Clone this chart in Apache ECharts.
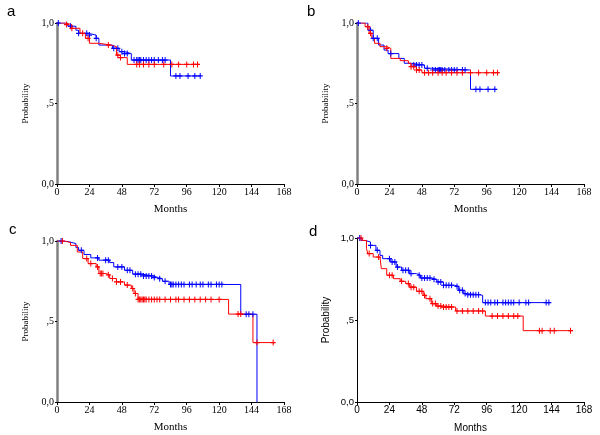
<!DOCTYPE html>
<html>
<head>
<meta charset="utf-8">
<script src="https://cdn.jsdelivr.net/npm/echarts@6/dist/echarts.min.js"></script>
<style>
html, body { margin: 0; padding: 0; background: #fff; }
#main { width: 600px; height: 435px; }
</style>
</head>
<body>
<div id="main"></div>
<script>
// step points [month, probability] of each survival curve
var aBlue = [[0,1],[8,0.98],[14,0.955],[16,0.936],[23,0.925],[29,0.905],[31,0.863],[41,0.843],[46,0.822],[50,0.81],[55,0.77],[84,0.671],[106,0.671]];
var aRed = [[0,1],[6,0.99],[11,0.967],[17,0.936],[21,0.905],[24,0.874],[31,0.863],[40,0.853],[44,0.80],[47,0.785],[52,0.743],[105,0.743]];
var bBlue = [[0,1],[8,0.955],[12,0.905],[16,0.863],[20,0.832],[23,0.81],[31,0.78],[35,0.75],[40,0.739],[50,0.719],[55,0.708],[84,0.588],[103,0.588]];
var bRed = [[0,1],[6,0.977],[9,0.936],[11,0.905],[13,0.874],[17,0.853],[22,0.843],[25,0.78],[32,0.766],[38,0.75],[40,0.729],[44,0.708],[48,0.691],[105,0.691]];
var cBlue = [[0,1],[5,0.995],[9,0.984],[14,0.96],[16,0.942],[20,0.916],[25,0.895],[31,0.881],[39,0.866],[42,0.839],[50,0.818],[56,0.794],[63,0.783],[71,0.773],[75,0.766],[78,0.75],[83,0.73],[136,0.545],[148,0]];
var cRed = [[0,1],[6,0.99],[10,0.973],[15,0.932],[19,0.891],[23,0.86],[29,0.839],[31,0.798],[36,0.79],[39,0.767],[44,0.746],[50,0.726],[55,0.705],[57,0.674],[60,0.637],[127,0.546],[145,0.369],[161,0.369]];
var dBlue = [[0,1],[3,0.985],[6,0.976],[10,0.955],[14,0.925],[17,0.894],[19,0.874],[25,0.854],[29,0.823],[33,0.803],[39,0.783],[44,0.773],[47,0.756],[55,0.748],[59,0.732],[64,0.712],[72,0.705],[75,0.681],[79,0.661],[81,0.654],[91,0.65],[93,0.606],[143,0.606]];
var dRed = [[0,1],[4,0.985],[7,0.935],[8,0.905],[12,0.884],[17,0.874],[18,0.813],[22,0.773],[27,0.752],[32,0.736],[36,0.722],[39,0.70],[44,0.675],[49,0.65],[51,0.63],[55,0.60],[59,0.585],[64,0.579],[73,0.555],[95,0.524],[123,0.435],[160,0.435]];

// censored times (months)
var aBlueC = [1,10,16,22,24,29,42,45,48,50,52,57,59,60,61,62,64,66,68,70,72,75,78,80,88,91,97,102,106];
var aRedC = [7,11,19,23,38,45,47,59,61,64,68,72,79,85,90,96,101,104];
var bBlueC = [1,10,12,15,25,42,44,46,48,52,56,58,60,61,62,63,65,68,70,72,74,78,80,88,91,97,102];
var bRedC = [8,10,22,40,42,44,46,50,53,56,60,63,66,70,74,78,84,90,96,101,104];
var cBlueC = [3,18,30,36,38,45,48,52,54,58,60,62,64,66,68,70,72,76,80,84,85,86,88,90,92,94,98,100,103,106,108,112,114,118,120,122,140,142,145];
var cRedC = [4,22,25,30,32,33,34,38,41,44,47,52,56,58,60,61,62,63,64,65,66,68,70,72,74,76,80,84,88,90,94,98,102,106,110,114,120,134,136,148,160];
var dBlueC = [2,10,15,24,26,28,30,34,36,38,40,46,48,50,52,54,57,60,62,64,66,68,70,74,76,78,80,82,84,86,88,90,95,97,99,102,104,108,110,112,114,116,120,125,127,140,142];
var dRedC = [3,9,16,24,26,33,38,40,42,46,48,50,54,56,58,60,62,64,66,68,70,74,78,82,86,90,93,100,104,108,112,116,119,135,137,143,146,158];

var xTicks = [0, 24, 48, 72, 96, 120, 144, 168];
var yTicks = {0: '0,0', 0.5: ',5', 1: '1,0'};

(function () {
    var myChart = echarts.init(document.getElementById('main'));

    var panels = [
        { tag: 'a', grid: { left: 57, top: 23, width: 227, height: 161 }, blue: aBlue, red: aRed, blueC: aBlueC, redC: aRedC, serif: true, tagPos: [2, -1] },
        { tag: 'b', grid: { left: 357, top: 23, width: 227, height: 161 }, blue: bBlue, red: bRed, blueC: bBlueC, redC: bRedC, serif: true, tagPos: [302, -1] },
        { tag: 'c', grid: { left: 57, top: 241, width: 227, height: 161 }, blue: cBlue, red: cRed, blueC: cBlueC, redC: cRedC, serif: true, tagPos: [4, 217] },
        { tag: 'd', grid: { left: 357, top: 238, width: 227, height: 164 }, blue: dBlue, red: dRed, blueC: dBlueC, redC: dRedC, serif: false, tagPos: [304, 219] }
    ];

    // value of a step curve at time t
    function surv(curve, t) {
        var v = curve[0][1];
        for (var i = 0; i < curve.length; i++) {
            if (curve[i][0] <= t) v = curve[i][1];
        }
        return v;
    }

    var plus = 'path://M2,0H3V5H2ZM0,2H5V3H0Z';

    var grids = [], xAxes = [], yAxes = [], series = [], titles = [];
    panels.forEach(function (p, i) {
        var font = p.serif ? 'Liberation Serif' : 'Liberation Sans';
        grids.push(p.grid);
        titles.push({
            text: p.tag, left: p.tagPos[0], top: p.tagPos[1],
            textStyle: { fontFamily: 'Liberation Sans', fontSize: 15, fontWeight: 'normal', color: '#000' }
        });
        xAxes.push({
            gridIndex: i, type: 'value', min: 0, max: 168, interval: 24,
            name: 'Months', nameLocation: 'middle', nameGap: p.serif ? 20 : 21,
            nameTextStyle: { fontFamily: font, fontSize: p.serif ? 11 : 10, color: '#000' },
            axisLine: { show: true, onZero: false, lineStyle: { color: '#000', width: 1 } },
            axisTick: { show: true, length: 3, lineStyle: { color: '#000' } },
            axisLabel: { fontFamily: font, fontSize: p.serif ? 10 : 10, color: '#000', margin: 3 },
            splitLine: { show: false }
        });
        yAxes.push({
            gridIndex: i, type: 'value', min: 0, max: 1, interval: 0.5,
            name: 'Probability', nameLocation: 'middle', nameRotate: 90, nameGap: p.serif ? 27 : 26,
            nameTextStyle: { fontFamily: font, fontSize: p.serif ? 9 : 10, color: '#000' },
            axisLine: { show: true, lineStyle: { color: p.serif ? '#808080' : '#000', width: p.serif ? 2.5 : 1 } },
            axisTick: { show: true, length: 2, lineStyle: { color: '#000' } },
            axisLabel: {
                fontFamily: font, fontSize: p.serif ? 10 : 9.5, color: '#000', margin: 3,
                formatter: function (v) { return yTicks[v]; }
            },
            splitLine: { show: false }
        });
        [['blue', '#0000ff'], ['red', '#ff0000']].forEach(function (g) {
            var curve = p[g[0]];
            series.push({
                type: 'line', xAxisIndex: i, yAxisIndex: i, step: 'end',
                data: curve, showSymbol: false, symbol: 'none',
                lineStyle: { color: g[1], width: 1 }, z: 3
            });
            series.push({
                type: 'scatter', xAxisIndex: i, yAxisIndex: i,
                data: p[g[0] + 'C'].map(function (t) { return [t, surv(curve, t)]; }),
                symbol: plus, symbolSize: [5, 6],
                itemStyle: { color: g[1], opacity: 1 }, z: 4
            });
        });
    });

    var option = {
        animation: false,
        backgroundColor: '#fff',
        title: titles,
        grid: grids,
        xAxis: xAxes,
        yAxis: yAxes,
        series: series
    };
    myChart.setOption(option);
    window.addEventListener('resize', function () {
        myChart.resize();
    });
})();
</script>
</body>
</html>
